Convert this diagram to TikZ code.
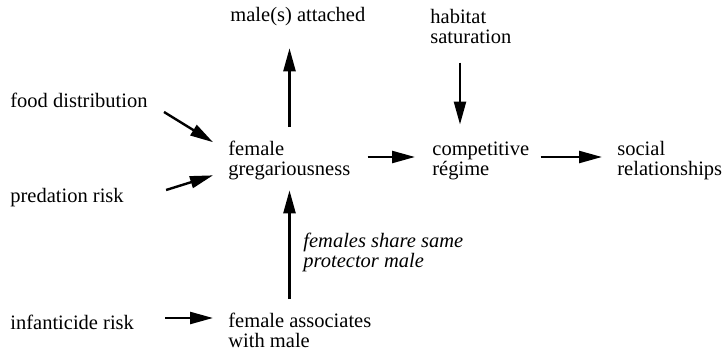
\documentclass[tikz,border=0pt]{standalone}
\usepackage{fontspec}
\setmainfont{Liberation Serif}
\usepackage{tikz}
\usetikzlibrary{calc, arrows.meta}

\begin{document}
\begin{tikzpicture}
[
x=0.5pt, y=-0.5pt,
inner sep=0pt,
font=\fontsize{10.25}{10}\selectfont,
txt/.style={anchor=base west, align=left},
ital/.style={anchor=base west, align=left, font=\fontsize{10.25}{10}\selectfont\itshape},
arr/.style={-{Triangle[length=11.5pt, width=6pt]}, black, line width=1.2pt},
]
\useasboundingbox (0,0) rectangle (725,349);

% base anchor sits on the last line
\node [txt] (males) at (230,21) {male(s) attached};
\node [txt] (habitat) at (430,43) {habitat\\saturation};

\node [txt] (food) at (10,107) {food distribution};
\node [txt] (fgreg) at (228,175) {female\\gregariousness};
\node [txt] (comp) at (432,175) {competitive\\r\'egime};
\node [txt] (social) at (617,175) {social\\relationships};
\node [txt] (pred) at (10,202) {predation risk};

\node [ital] (share) at (303,267) {females share same\\protector male};

\node [txt] (infant) at (10,329) {infanticide risk};
\node [txt] (fassoc) at (228,347) {female associates\\with male};

\draw [arr] ($(food.base east)+(16,5)$) -- ($(fgreg.north west)+(-15,2)$);
\draw [arr] ($(pred.base east)+(42,-12)$) -- ($(fgreg.south west)+(-15,-4.5)$);
\draw [arr] ($(fgreg.north west)+(61.5,-13)$) -- ($(males.south west)+(59.5,22.5)$);
\draw [arr] ($(fassoc.north west)+(61.5,-13)$) -- ($(fgreg.south west)+(61.5,10.5)$);
\draw [arr] ($(infant.base east)+(31,-11)$) -- ($(fassoc.base west)+(-15,-29)$);

\draw [arr] ($(fgreg.base east)+(17,-18)$) -- ($(comp.base west)+(-17,-18)$);
\draw [arr] ($(habitat.south west)+(30,19)$) -- ($(comp.north west)+(28,-16.5)$);
\draw [arr] ($(comp.base east)+(11,-18)$) -- ($(social.base west)+(-15,-18)$);
\end{tikzpicture}
\end{document}
